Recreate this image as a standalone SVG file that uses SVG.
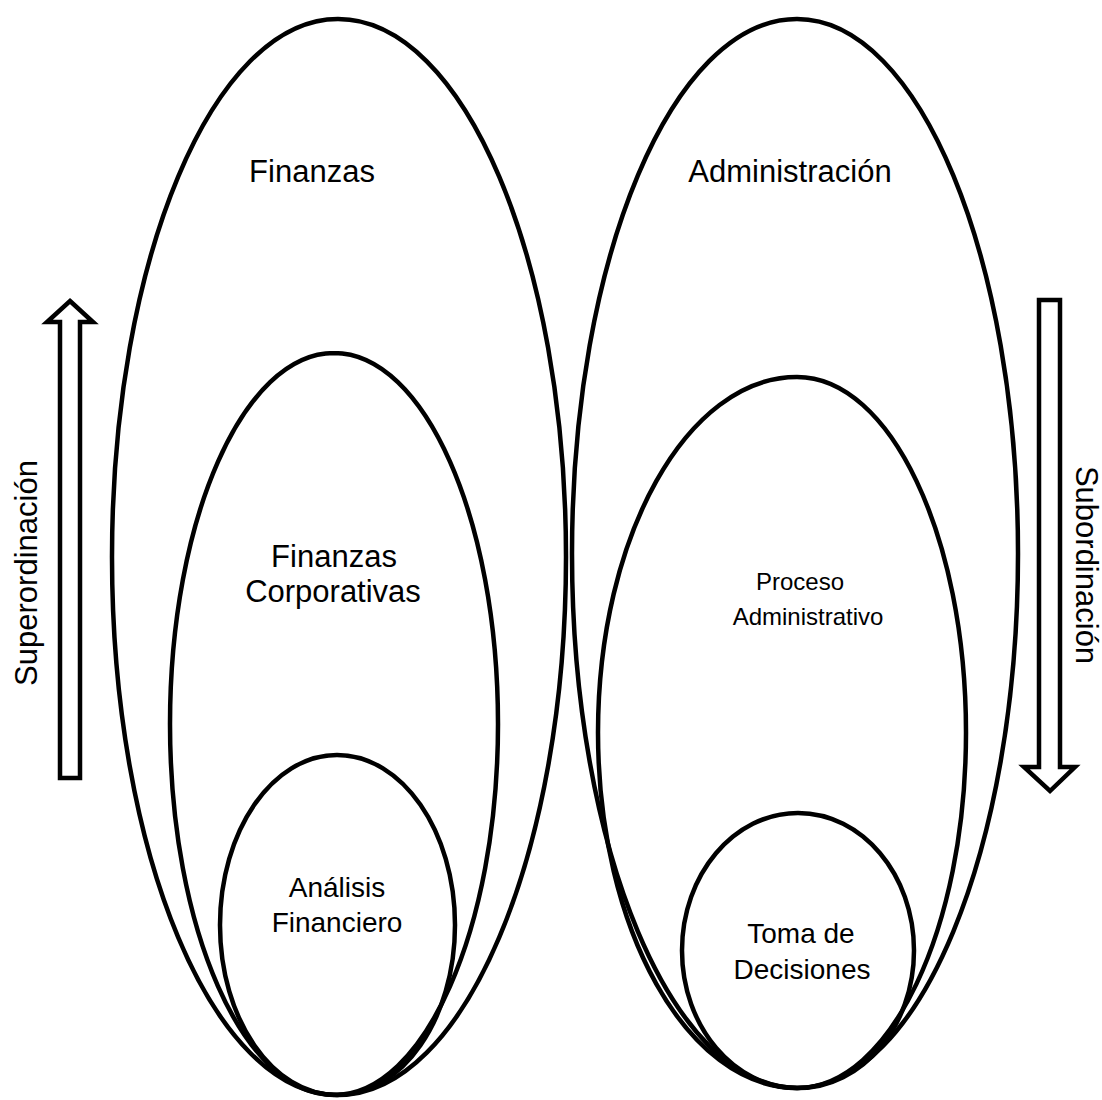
<svg xmlns="http://www.w3.org/2000/svg" width="1102" height="1100" viewBox="0 0 1102 1100">
<style>
.sh{fill:none;stroke:#000;stroke-width:4.5}
.ar{fill:#fff;stroke:#000;stroke-width:4.5;stroke-linejoin:miter}
text{font-family:"Liberation Sans",Arial,sans-serif;fill:#000;text-anchor:middle}
.l{font-size:31px}
.m{font-size:28px}
.s{font-size:24px}
</style>
<rect width="1102" height="1100" fill="#fff"/>
<g id="finanzas">
<path class="sh" d="M338,19 C213.2,19 112,259.9 112,557 C112,854.1 213.2,1095 338,1095 C463.9,1095 566,854.1 566,557 C566,259.9 463.9,19 338,19Z"/>
<text class="l" x="312" y="182">Finanzas</text>
</g>
<g id="finanzas-corporativas">
<path class="sh" d="M334,353 C243.4,353 170,519.1 170,724 C170,928.9 243.4,1095 334,1095 C424.6,1095 498,928.9 498,724 C498,519.1 424.6,353 334,353Z"/>
<text class="l" x="334" y="567">Finanzas</text>
<text class="l" x="333" y="602">Corporativas</text>
</g>
<g id="analisis-financiero">
<path class="sh" d="M337,755 C272.4,755 220,831.1 220,925 C220,1018.9 272.4,1095 337,1095 C402.2,1095 455,1018.9 455,925 C455,831.1 402.2,755 337,755Z"/>
<text class="m" x="337" y="897">Análisis</text>
<text class="m" x="337" y="932">Financiero</text>
</g>
<g id="administracion">
<path class="sh" d="M797,19 C672.7,19 572,258 572,553.5 C572,849 672.7,1088 797,1088 C919.1,1088 1018,849 1018,553.5 C1018,258 919.1,19 797,19Z"/>
<text class="l" x="790" y="182">Administración</text>
</g>
<g id="proceso-administrativo">
<path class="sh" d="M797,377 C687.1,377 598,536.2 598,732.5 C598,928.8 687.1,1088 797,1088 C890.3,1088 966,928.8 966,732.5 C966,536.2 890.3,377 797,377Z"/>
<text class="s" x="800" y="590">Proceso</text>
<text class="s" x="808" y="625">Administrativo</text>
</g>
<g id="toma-de-decisiones">
<path class="sh" d="M798,813 C733.9,813 682,874.6 682,950.5 C682,1026.4 733.9,1088 798,1088 C862.1,1088 914,1026.4 914,950.5 C914,874.6 862.1,813 798,813Z"/>
<text class="m" x="801" y="943">Toma de</text>
<text class="m" x="802" y="979">Decisiones</text>
</g>
<g id="connectors">
<polygon class="ar" points="70,301 93,322 80,322 80,778 60,778 60,322 47,322"/>
<polygon class="ar" points="1039,300 1060,300 1060,767 1075,767 1050,791 1024,767 1039,767"/>
</g>
<g id="labels">
<text class="l" transform="translate(37,573) rotate(-90)">Superordinación</text>
<text class="l" transform="translate(1076,565) rotate(90)">Subordinación</text>
</g>
</svg>
